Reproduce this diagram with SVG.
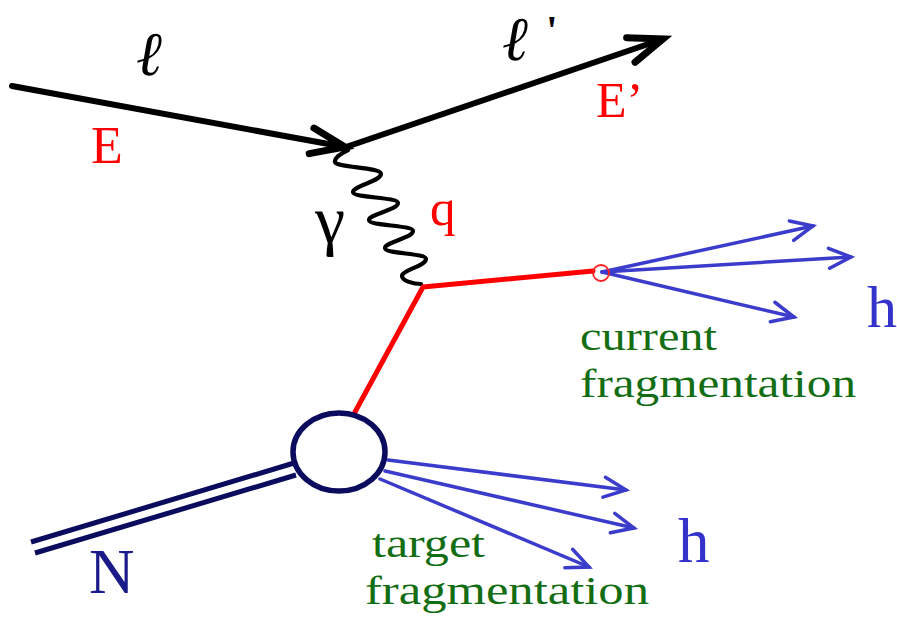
<svg xmlns="http://www.w3.org/2000/svg" width="897" height="617" viewBox="0 0 897 617">
<style>
.lep{fill:none;stroke:#000;stroke-width:6;stroke-linecap:round}
.blue{fill:none;stroke:#3c3ccc;stroke-width:3.5;stroke-linecap:round}
.red{fill:none;stroke:#ff0000;stroke-width:5;stroke-linecap:round;stroke-linejoin:round}
.navy{fill:none;stroke:#0c0c5e;stroke-width:5}
text{font-family:"Liberation Serif","Times New Roman",serif}
.green{fill:#136d13;font-size:41px}
</style>
<defs>
<marker id="bigHead" markerUnits="userSpaceOnUse" orient="auto" markerWidth="60" markerHeight="60" refX="0" refY="0" viewBox="-45 -30 60 60" overflow="visible">
<path d="M-34,-13 L0,0 L-34,13" fill="none" stroke="#000" stroke-width="7" stroke-linecap="round" stroke-linejoin="miter"/>
</marker>
<marker id="blueHead" markerUnits="userSpaceOnUse" orient="auto" markerWidth="40" markerHeight="40" refX="0" refY="0" viewBox="-30 -20 40 40" overflow="visible">
<path d="M-22,-10 L0,0 L-22,10" fill="none" stroke="#3c3ccc" stroke-width="3.5" stroke-linecap="round" stroke-linejoin="miter"/>
</marker>
</defs>

<g id="connectors">
<line class="lep" x1="12" y1="86" x2="345" y2="147" marker-end="url(#bigHead)"/>
<line class="lep" x1="346" y1="147" x2="663" y2="39" marker-end="url(#bigHead)"/>
<path id="photon" d="M348,150 C342,153 334,158 335,162 C337,168 381,167 381,174 C381,181 353,186 353,192 C353,198 398,197 398,203 C398,210 369,214 369,220 C369,226 413,225 413,231 C413,238 385,242 385,248 C385,254 426,253 426,259 C426,266 402,270 402,276 C402,281 414,284 421,284" fill="none" stroke="#000" stroke-width="4.2" stroke-linecap="round" stroke-linejoin="round"/>
<polyline class="red" points="355,412 423,287 593,271"/>
<line class="blue" x1="602" y1="272" x2="813" y2="226" marker-end="url(#blueHead)"/>
<line class="blue" x1="602" y1="272" x2="851" y2="257" marker-end="url(#blueHead)"/>
<line class="blue" x1="602" y1="272" x2="794" y2="317" marker-end="url(#blueHead)"/>
<line class="blue" x1="388" y1="460" x2="626" y2="490" marker-end="url(#blueHead)"/>
<line class="blue" x1="385" y1="471" x2="634" y2="528" marker-end="url(#blueHead)"/>
<line class="blue" x1="380" y1="479" x2="589" y2="567" marker-end="url(#blueHead)"/>
<line class="navy" x1="294" y1="463" x2="31" y2="542"/>
<line class="navy" x1="296" y1="475" x2="35" y2="553"/>
</g>

<g id="nucleon-vertex">
<ellipse cx="339" cy="452" rx="46" ry="39" fill="#fff" stroke="#0c0c5e" stroke-width="5.5"/>
</g>
<g id="quark-vertex">
<circle cx="601" cy="273" r="8" fill="none" stroke="#ff2020" stroke-width="1.8"/>
</g>

<g id="labels">
<text x="136" y="75" font-style="italic" font-size="62" fill="#000">ℓ</text>
<text x="502" y="60" font-style="italic" font-size="62" fill="#000">ℓ</text>
<text x="546" y="45" font-family="DejaVu Sans, sans-serif" font-weight="bold" font-size="42" fill="#000">'</text>
<text x="91" y="163" font-size="52" fill="#ff0000">E</text>
<text x="596" y="117" font-size="50" fill="#ff0000">E’</text>
<text x="315" y="243" font-size="68" fill="#000">γ</text>
<text x="430" y="225" font-size="51" fill="#ff0000">q</text>
<text x="867" y="327" font-size="60" fill="#3333cc">h</text>
<text x="678" y="562" font-size="63" fill="#3333cc">h</text>
<text x="89" y="593" font-size="63" fill="#1a1a88">N</text>
<text class="green" x="580" y="350" textLength="137" lengthAdjust="spacingAndGlyphs">current</text>
<text class="green" x="580" y="397" textLength="276" lengthAdjust="spacingAndGlyphs">fragmentation</text>
<text class="green" x="372" y="557" textLength="113" lengthAdjust="spacingAndGlyphs">target</text>
<text class="green" x="365" y="604" textLength="284" lengthAdjust="spacingAndGlyphs">fragmentation</text>
</g>
</svg>
